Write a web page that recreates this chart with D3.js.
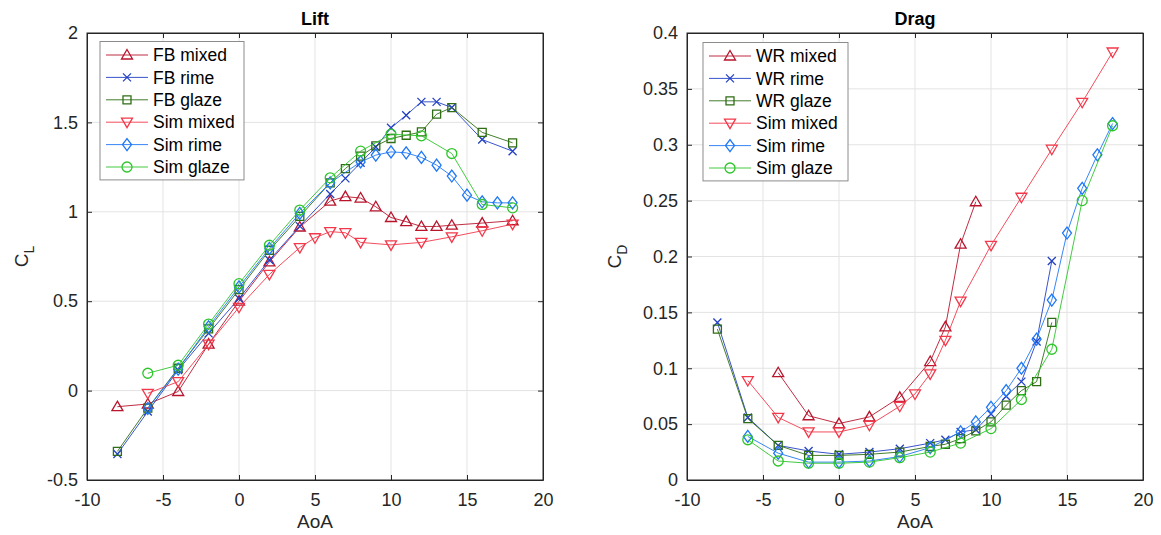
<!DOCTYPE html>
<html>
<head>
<meta charset="utf-8">
<script src="https://cdn.jsdelivr.net/npm/d3@7"></script>
<style>
  body { margin: 0; background: #fff; }
  svg { font-family: "Liberation Sans", Arial, Helvetica, sans-serif; }
  .grid line { stroke: #e3e3e3; stroke-width: 1; }
  .axis path, .axis line { stroke: #262626; }
  .axis text { fill: #262626; font-size: 18px; }
</style>
</head>
<body>
<svg id="chart" width="1161" height="535"></svg>
<script>
// ---- data ----
const xTicks = [-10, -5, 0, 5, 10, 15, 20];
const liftTicks = [-0.5, 0, 0.5, 1, 1.5, 2];
const dragTicks = [0, 0.05, 0.1, 0.15, 0.2, 0.25, 0.3, 0.35, 0.4];

const colors = {
  mixedExp: '#b8142c', rimeExp: '#2341c4', glazeExp: '#2f6e14',
  mixedSim: '#f2394b', rimeSim: '#1f78f5', glazeSim: '#2ec52b'
};

// Lift
const fbMixedAoA = [-8, -6, -4, -2, 0, 2, 4, 6, 7, 8, 9, 10, 11, 12, 13, 14, 16, 18];
const fbMixedCL  = [-0.09, -0.075, -0.005, 0.26, 0.5, 0.72, 0.915, 1.06, 1.085, 1.077, 1.028, 0.968, 0.945, 0.918, 0.918, 0.925, 0.937, 0.95];
const fbRimeAoA  = [-8, -6, -4, -2, 0, 2, 4, 6, 7, 8, 9, 10, 11, 12, 13, 14, 16, 18];
const fbRimeCL   = [-0.355, -0.117, 0.115, 0.32, 0.515, 0.73, 0.92, 1.1, 1.187, 1.274, 1.362, 1.47, 1.54, 1.615, 1.615, 1.583, 1.404, 1.339];
const fbGlazeAoA = [-8, -6, -4, -2, 0, 2, 4, 6, 7, 8, 9, 10, 11, 12, 13, 14, 16, 18];
const fbGlazeCL  = [-0.34, -0.098, 0.125, 0.345, 0.565, 0.785, 0.974, 1.162, 1.242, 1.311, 1.369, 1.41, 1.428, 1.447, 1.546, 1.583, 1.444, 1.386];
const simMixedAoA = [-6, -4, -2, 0, 2, 4, 5, 6, 7, 8, 10, 12, 14, 16, 18];
const simMixedCL  = [-0.015, 0.05, 0.26, 0.466, 0.65, 0.8, 0.855, 0.889, 0.883, 0.829, 0.815, 0.829, 0.86, 0.894, 0.931];
const simRimeAoA = [-6, -4, -2, 0, 2, 4, 6, 8, 9, 10, 11, 12, 13, 14, 15, 16, 17, 18];
const simRimeCL  = [-0.1, 0.12, 0.357, 0.58, 0.795, 0.991, 1.162, 1.279, 1.317, 1.335, 1.33, 1.304, 1.261, 1.2, 1.093, 1.056, 1.05, 1.05];
const simGlazeAoA = [-6, -4, -2, 0, 2, 4, 6, 8, 10, 12, 14, 16, 18];
const simGlazeCL  = [0.097, 0.142, 0.372, 0.598, 0.813, 1.01, 1.19, 1.339, 1.434, 1.425, 1.326, 1.041, 1.022];

// Drag
const wrMixedAoA = [-4, -2, 0, 2, 4, 6, 7, 8, 9];
const wrMixedCD  = [0.096, 0.0575, 0.0505, 0.0565, 0.074, 0.106, 0.137, 0.211, 0.249];
const wrRimeAoA  = [-8, -6, -4, -2, 0, 2, 4, 6, 7, 8, 9, 10, 11, 12, 13, 14];
const wrRimeCD   = [0.141, 0.056, 0.031, 0.026, 0.023, 0.025, 0.028, 0.033, 0.036, 0.043, 0.045, 0.059, 0.075, 0.088, 0.124, 0.196];
const wrGlazeAoA = [-8, -6, -4, -2, 0, 2, 4, 6, 7, 8, 9, 10, 11, 12, 13, 14];
const wrGlazeCD  = [0.135, 0.055, 0.031, 0.022, 0.022, 0.023, 0.025, 0.030, 0.032, 0.037, 0.044, 0.052, 0.067, 0.080, 0.088, 0.141];
const simMixedDAoA = [-6, -4, -2, 0, 2, 4, 5, 6, 7, 8, 10, 12, 14, 16, 18];
const simMixedCD   = [0.089, 0.056, 0.043, 0.043, 0.049, 0.066, 0.077, 0.095, 0.125, 0.16, 0.21, 0.253, 0.296, 0.338, 0.383];
const simRimeDAoA = [-6, -4, -2, 0, 2, 4, 6, 8, 9, 10, 11, 12, 13, 14, 15, 16, 17, 18];
const simRimeCD   = [0.039, 0.024, 0.016, 0.016, 0.017, 0.021, 0.029, 0.043, 0.052, 0.065, 0.080, 0.100, 0.126, 0.161, 0.221, 0.261, 0.291, 0.319];
const simGlazeDAoA = [-6, -4, -2, 0, 2, 4, 6, 8, 10, 12, 14, 16, 18];
const simGlazeCD   = [0.036, 0.017, 0.015, 0.015, 0.016, 0.020, 0.025, 0.033, 0.046, 0.072, 0.117, 0.25, 0.317];

const zip = (xs, ys) => xs.map((x, i) => ({x, y: ys[i]}));

const liftSeries = [
  {name: 'FB mixed', color: colors.mixedExp, marker: 'triUp', data: zip(fbMixedAoA, fbMixedCL)},
  {name: 'FB rime', color: colors.rimeExp, marker: 'cross', data: zip(fbRimeAoA, fbRimeCL)},
  {name: 'FB glaze', color: colors.glazeExp, marker: 'square', data: zip(fbGlazeAoA, fbGlazeCL)},
  {name: 'Sim mixed', color: colors.mixedSim, marker: 'triDown', data: zip(simMixedAoA, simMixedCL)},
  {name: 'Sim rime', color: colors.rimeSim, marker: 'diamond', data: zip(simRimeAoA, simRimeCL)},
  {name: 'Sim glaze', color: colors.glazeSim, marker: 'circle', data: zip(simGlazeAoA, simGlazeCL)}
];
const dragSeries = [
  {name: 'WR mixed', color: colors.mixedExp, marker: 'triUp', data: zip(wrMixedAoA, wrMixedCD)},
  {name: 'WR rime', color: colors.rimeExp, marker: 'cross', data: zip(wrRimeAoA, wrRimeCD)},
  {name: 'WR glaze', color: colors.glazeExp, marker: 'square', data: zip(wrGlazeAoA, wrGlazeCD)},
  {name: 'Sim mixed', color: colors.mixedSim, marker: 'triDown', data: zip(simMixedDAoA, simMixedCD)},
  {name: 'Sim rime', color: colors.rimeSim, marker: 'diamond', data: zip(simRimeDAoA, simRimeCD)},
  {name: 'Sim glaze', color: colors.glazeSim, marker: 'circle', data: zip(simGlazeDAoA, simGlazeCD)}
];

// marker shapes, centred on 0,0
function markerPath(type) {
  switch (type) {
    case 'triUp': return 'M0,-5.5L5.5,4L-5.5,4Z';
    case 'triDown': return 'M0,5.5L5.5,-4L-5.5,-4Z';
    case 'cross': return 'M-4,-4L4,4M-4,4L4,-4';
    case 'square': return 'M-4,-4H4V4H-4Z';
    case 'diamond': return 'M0,-6L4.5,0L0,6L-4.5,0Z';
    case 'circle': return d3.symbol(d3.symbolCircle, 78)();
  }
}

const svg = d3.select('#chart');

function drawPanel(opts) {
  const {left, right, top, bottom, yDomain, yTicks, series, title, ySub, yLabelX, legendPos, legendW} = opts;
  const w = right - left, h = bottom - top;
  const g = svg.append('g').attr('transform', `translate(${left},${top})`);

  const x = d3.scaleLinear().domain([-10, 20]).range([0, w]);
  const y = d3.scaleLinear().domain(yDomain).range([h, 0]);
  const fmt = d => String(d);

  // grid
  g.append('g').attr('class', 'grid')
    .selectAll('line').data(xTicks.slice(1, -1)).join('line')
    .attr('x1', d => x(d)).attr('x2', d => x(d)).attr('y1', 0).attr('y2', h);
  g.append('g').attr('class', 'grid')
    .selectAll('line').data(yTicks.slice(1, -1)).join('line')
    .attr('y1', d => y(d)).attr('y2', d => y(d)).attr('x1', 0).attr('x2', w);

  // axes, ticks inside on all four sides
  g.append('g').attr('class', 'axis').attr('transform', `translate(0,${h})`)
    .call(d3.axisBottom(x).tickValues(xTicks).tickSize(-5).tickPadding(13).tickFormat(fmt).tickSizeOuter(0));
  g.append('g').attr('class', 'axis')
    .call(d3.axisTop(x).tickValues(xTicks).tickSize(-5).tickFormat('').tickSizeOuter(0));
  g.append('g').attr('class', 'axis')
    .call(d3.axisLeft(y).tickValues(yTicks).tickSize(-5).tickPadding(9).tickFormat(fmt).tickSizeOuter(0));
  g.append('g').attr('class', 'axis').attr('transform', `translate(${w},0)`)
    .call(d3.axisRight(y).tickValues(yTicks).tickSize(-5).tickFormat('').tickSizeOuter(0));
  g.append('rect').attr('width', w).attr('height', h)
    .attr('fill', 'none').attr('stroke', '#262626').attr('stroke-width', 1);

  // series
  const line = d3.line().x(d => x(d.x)).y(d => y(d.y));
  series.forEach(s => {
    g.append('path').datum(s.data).attr('d', line)
      .attr('fill', 'none').attr('stroke', s.color).attr('stroke-width', 0.9);
    g.append('g').selectAll('path').data(s.data).join('path')
      .attr('transform', d => `translate(${x(d.x)},${y(d.y)})`)
      .attr('d', markerPath(s.marker))
      .attr('fill', 'none').attr('stroke', s.color).attr('stroke-width', 1.3);
  });

  // title
  svg.append('text').attr('x', left + w / 2).attr('y', 25)
    .attr('text-anchor', 'middle').attr('font-weight', 'bold').attr('font-size', 18)
    .attr('fill', '#000').text(title);

  // x label
  svg.append('text').attr('x', left + w / 2).attr('y', 528)
    .attr('text-anchor', 'middle').attr('font-size', 19).attr('fill', '#262626').text('AoA');

  // y label: C with subscript
  const yl = svg.append('text')
    .attr('transform', `translate(${yLabelX},${top + h / 2}) rotate(-90)`)
    .attr('text-anchor', 'middle').attr('font-size', 19).attr('fill', '#262626');
  yl.append('tspan').text('C');
  yl.append('tspan').attr('font-size', 14).attr('dy', 6).text(ySub);

  // legend
  const lg = g.append('g').attr('transform', `translate(${legendPos[0]},${legendPos[1]})`);
  const rowH = 22.4;
  lg.append('rect').attr('width', legendW).attr('height', rowH * series.length + 4)
    .attr('fill', '#fff').attr('stroke', '#8c8c8c').attr('stroke-width', 1);
  series.forEach((s, i) => {
    const ly = 13.5 + i * rowH;
    lg.append('line').attr('x1', 6).attr('x2', 48).attr('y1', ly).attr('y2', ly)
      .attr('stroke', s.color).attr('stroke-width', 0.9);
    lg.append('path').attr('transform', `translate(27,${ly})`)
      .attr('d', markerPath(s.marker)).attr('fill', 'none')
      .attr('stroke', s.color).attr('stroke-width', 1.3);
    lg.append('text').attr('x', 53).attr('y', ly).attr('dy', '0.35em')
      .attr('font-size', 17.5).attr('fill', '#000').text(s.name);
  });
}

drawPanel({
  left: 87, right: 543, top: 33, bottom: 480,
  yDomain: [-0.5, 2], yTicks: liftTicks,
  series: liftSeries, title: 'Lift', ySub: 'L', yLabelX: 28,
  legendPos: [13, 8.5], legendW: 144
});
drawPanel({
  left: 687, right: 1143, top: 33, bottom: 480,
  yDomain: [0, 0.4], yTicks: dragTicks,
  series: dragSeries, title: 'Drag', ySub: 'D', yLabelX: 621,
  legendPos: [16, 9.5], legendW: 145
});
</script>
</body>
</html>
